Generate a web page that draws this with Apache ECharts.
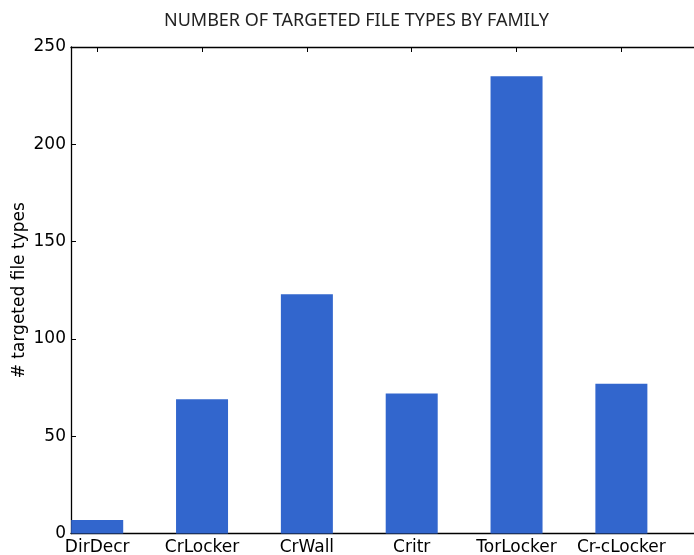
<!DOCTYPE html>
<html>
<head>
<meta charset="utf-8">
<script src="https://cdn.jsdelivr.net/npm/echarts@6/dist/echarts.min.js"></script>
<style>html,body{margin:0;padding:0;background:#fff;}#c{width:694px;height:555px;}</style>
</head>
<body>
<div id="c"></div>
<script>
const families = ['DirDecr', 'CrLocker', 'CrWall', 'Critr', 'TorLocker', 'Cr-cLocker'];
const fileTypeCounts = [7, 69, 123, 72, 235, 77];
const yTicks = [0, 50, 100, 150, 200, 250];

const positions = families.map((_, i) => i);
const barData = families.map((_, i) => [i, fileTypeCounts[i]]);
const font = 'DejaVu Sans';

const chart = echarts.init(document.getElementById('c'), null, {renderer: 'canvas'});
chart.setOption({
  animation: false,
  backgroundColor: '#fff',
  title: {
    text: 'NUMBER OF TARGETED FILE TYPES BY FAMILY',
    left: 159, top: 7,
    textStyle: {fontFamily: 'Noto Sans', fontSize: 18, fontWeight: 'normal', color: '#222'}
  },
  grid: {left: 71, top: 47, width: 629, height: 486.5, containLabel: false, outerBoundsMode: 'none'},
  xAxis: [{
    type: 'value', min: -0.25, max: 5.75, position: 'bottom',
    axisLine: {show: true, onZero: false, lineStyle: {color: '#000', width: 1.3}},
    axisTick: {show: true, inside: true, length: 5, customValues: positions, lineStyle: {color: '#000'}},
    axisLabel: {show: true, customValues: positions, margin: 6,
      formatter: v => families[Math.round(v)] || '',
      fontFamily: font, fontSize: 17, color: '#000'},
    splitLine: {show: false}
  }, {
    type: 'value', min: -0.25, max: 5.75, position: 'top',
    axisLine: {show: true, onZero: false, lineStyle: {color: '#000', width: 1.3}},
    axisTick: {show: true, inside: true, length: 5, customValues: positions, lineStyle: {color: '#000'}},
    axisLabel: {show: false},
    splitLine: {show: false}
  }],
  yAxis: [{
    type: 'value', min: 0, max: 250, interval: 50, position: 'left',
    name: '# targeted file types', nameLocation: 'middle', nameGap: 43, nameRotate: 90,
    nameMoveOverlap: false,
    nameTextStyle: {fontFamily: font, fontSize: 17, color: '#000'},
    axisLine: {show: true, onZero: false, lineStyle: {color: '#000', width: 1.3}},
    axisTick: {show: true, inside: true, length: 5, lineStyle: {color: '#000'}},
    axisLabel: {fontFamily: font, fontSize: 17, color: '#000', margin: 5,
      customValues: yTicks},
    splitLine: {show: false}
  }, {
    type: 'value', min: 0, max: 250, interval: 50, position: 'right',
    axisLine: {show: true, onZero: false, lineStyle: {color: '#000', width: 1.3}},
    axisTick: {show: true, inside: true, length: 5},
    axisLabel: {show: false},
    splitLine: {show: false}
  }],
  series: [{
    type: 'bar',
    xAxisIndex: 0, yAxisIndex: 0,
    data: barData,
    barWidth: 52,
    itemStyle: {color: '#3266cd'},
    z: 1
  }]
});
</script>
</body>
</html>
